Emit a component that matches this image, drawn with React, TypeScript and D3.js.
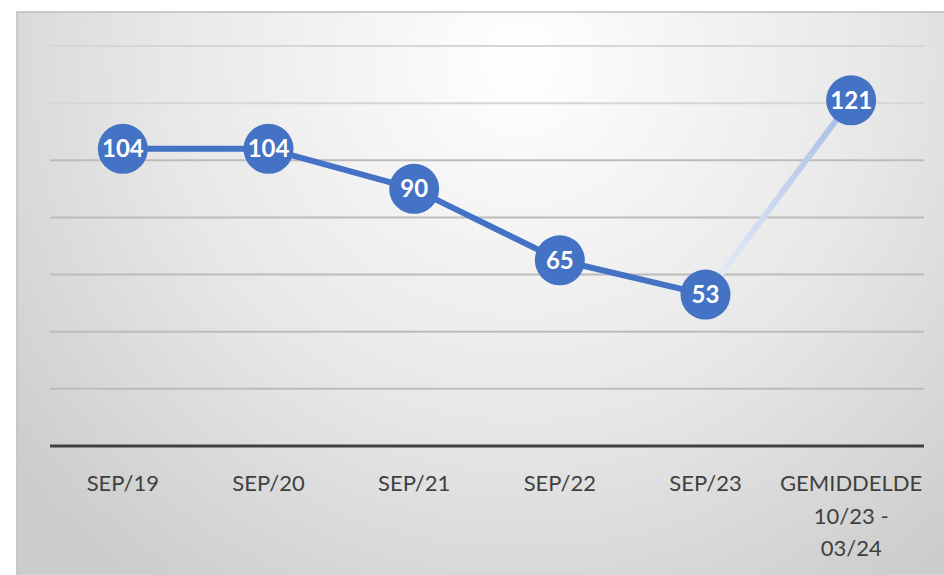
import React, { useEffect, useRef } from 'react';
import * as d3 from 'd3';

const categories = ['SEP/19', 'SEP/20', 'SEP/21', 'SEP/22', 'SEP/23', 'GEMIDDELDE\n10/23 -\n03/24'];
const values = [104, 104, 90, 65, 53, 121];
const gridTicks = [20, 40, 60, 80, 100, 120, 140];

const W = 944;
const H = 575;
const margin = { left: 50, right: 20, top: 46, bottom: 129 };

const App = () => {
  const ref = useRef<SVGSVGElement>(null);

  useEffect(() => {
    const svg = d3.select(ref.current);
    svg.selectAll('*').remove();

    const defs = svg.append('defs');
    const bg = defs.append('radialGradient')
      .attr('id', 'bg')
      .attr('gradientUnits', 'userSpaceOnUse')
      .attr('cx', 520).attr('cy', 60).attr('r', 640);
    bg.append('stop').attr('offset', 0).attr('stop-color', '#ffffff');
    bg.append('stop').attr('offset', 0.55).attr('stop-color', '#e8e8e8');
    bg.append('stop').attr('offset', 1).attr('stop-color', '#cdcdcd');

    const x = d3.scaleBand().domain(categories).range([margin.left, W - margin.right]);
    const y = d3.scaleLinear().domain([0, 140]).range([H - margin.bottom, margin.top]);
    const cx = (i: number) => x(categories[i])! + x.bandwidth() / 2;

    const fade = defs.append('linearGradient')
      .attr('id', 'fade')
      .attr('gradientUnits', 'userSpaceOnUse')
      .attr('x1', cx(4)).attr('y1', y(values[4]))
      .attr('x2', cx(5)).attr('y2', y(values[5]));
    fade.append('stop').attr('offset', 0).attr('stop-color', '#e9eff9');
    fade.append('stop').attr('offset', 1).attr('stop-color', '#a6bce4');

    // chart area
    svg.append('rect')
      .attr('x', 17).attr('y', 12).attr('width', W - 16).attr('height', H - 11)
      .attr('fill', 'url(#bg)')
      .attr('stroke', '#bdbdbd').attr('stroke-width', 1.5);

    // gridlines
    svg.append('g').selectAll('line')
      .data(gridTicks)
      .enter().append('line')
      .attr('x1', margin.left).attr('x2', W - margin.right)
      .attr('y1', (d) => y(d)).attr('y2', (d) => y(d))
      .attr('stroke', (d) => (d >= 120 ? '#d6d6d6' : '#bcbcbc'))
      .attr('stroke-width', 2);

    // axis line
    svg.append('line')
      .attr('x1', margin.left).attr('x2', W - margin.right)
      .attr('y1', y(0)).attr('y2', y(0))
      .attr('stroke', '#404040').attr('stroke-width', 3);

    // category labels
    const labels = svg.append('g')
      .selectAll('text')
      .data(categories)
      .enter().append('text')
      .attr('x', (d) => x(d)! + x.bandwidth() / 2)
      .attr('y', y(0) + 45)
      .attr('text-anchor', 'middle')
      .style('font', '22px Lato, "Liberation Sans", sans-serif')
      .style('fill', '#404040');
    labels.each(function (d) {
      const t = d3.select(this);
      d.split('\n').forEach((line, i) => {
        t.append('tspan')
          .attr('x', x(d)! + x.bandwidth() / 2)
          .attr('dy', i === 0 ? 0 : 32.5)
          .text(line);
      });
    });

    // line
    const line = d3.line<number>()
      .x((d, i) => cx(i))
      .y((d) => y(d));
    svg.append('path')
      .attr('d', line(values.slice(0, 5)))
      .attr('fill', 'none')
      .attr('stroke', '#4472c4')
      .attr('stroke-width', 6)
      .attr('stroke-linejoin', 'round');
    svg.append('line')
      .attr('x1', cx(4)).attr('y1', y(values[4]))
      .attr('x2', cx(5)).attr('y2', y(values[5]))
      .attr('stroke', 'url(#fade)')
      .attr('stroke-width', 6);

    // markers
    const pts = svg.append('g').selectAll('g')
      .data(values)
      .enter().append('g')
      .attr('transform', (d, i) => `translate(${cx(i)},${y(d)})`);
    pts.append('circle')
      .attr('r', 25)
      .attr('fill', '#4472c4');
    pts.append('text')
      .attr('text-anchor', 'middle')
      .attr('dy', '0.36em')
      .text((d) => d)
      .style('font', 'bold 24px Lato, "Liberation Sans", sans-serif')
      .style('fill', '#ffffff');
  }, []);

  return (
    <svg
      ref={ref}
      width={W}
      height={H}
      style={{ position: 'absolute', left: 0, top: 0, display: 'block' }}
    ></svg>
  );
};

export default App;
